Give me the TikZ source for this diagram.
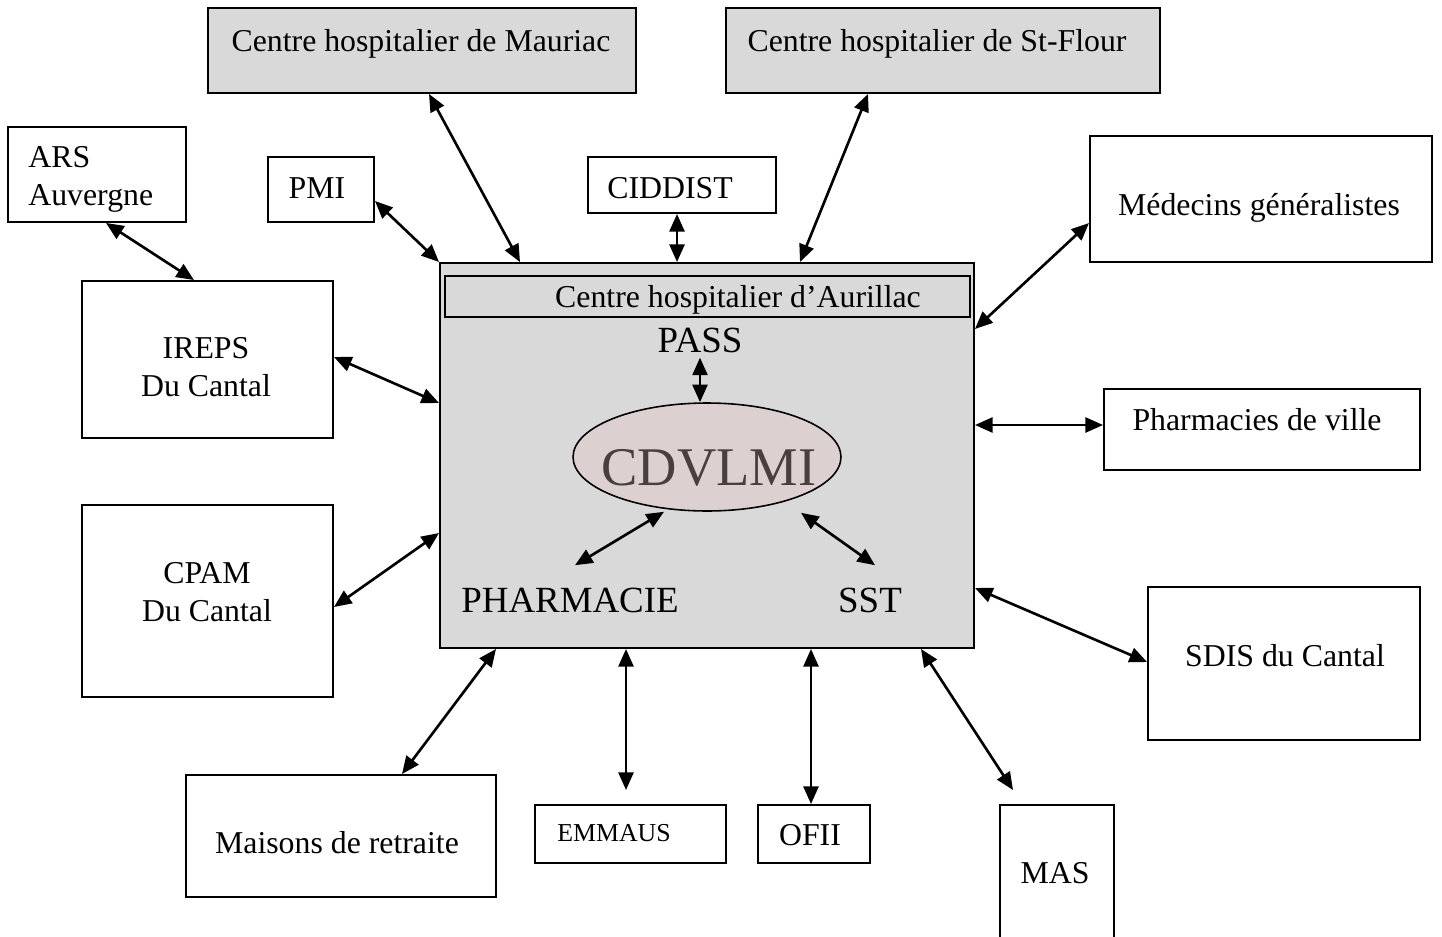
\documentclass[tikz,border=0pt]{standalone}
\usepackage{fontspec}
\setmainfont{Liberation Serif}
\usetikzlibrary{arrows.meta,shapes.geometric,fit,calc}
\definecolor{boxgray}{RGB}{217,217,217}
\definecolor{ellfill}{RGB}{221,208,208}
\definecolor{elltext}{RGB}{74,62,62}
\begin{document}
\begin{tikzpicture}[x=0.02cm,y=-0.02cm,
  box/.style={draw=black, line width=1.1pt, inner sep=0pt, fill=white},
  graybox/.style={box, fill=boxgray},
  txt/.style={inner sep=0pt, font=\fontsize{18.1}{21.5}\selectfont},
  bigtxt/.style={inner sep=0pt, font=\fontsize{21}{25}\selectfont},
  smalltxt/.style={inner sep=0pt, font=\fontsize{14.7}{17}\selectfont},
  link/.style={line width=1.5pt, {Triangle[length=10pt,width=8.5pt]}-{Triangle[length=10pt,width=8.5pt]}},
]
\useasboundingbox (0,0) rectangle (1442,936);

% boxes
\node[graybox, fit={(208,8)(636,93)}] (maur) {};
\node[graybox, fit={(726,8)(1160,93)}] (sfl) {};
\node[box, fit={(8,127)(186,222)}] (ars) {};
\node[box, fit={(268,157)(374,222)}] (pmi) {};
\node[box, fit={(588,157)(776,213)}] (cid) {};
\node[box, fit={(1090,136)(1432,262)}] (med) {};
\node[box, fit={(82,281)(333,438)}] (ireps) {};
\node[graybox, fit={(440,263)(974,648)}] (main) {};
\node[draw=black, line width=1.1pt, inner sep=0pt, fit={(445,276)(970,317)}] (title) {};
\node[ellipse, draw=black, line width=0.9pt, fill=ellfill, minimum width=5.36cm, minimum height=2.16cm, inner sep=0pt] (cdv) at (707,457) {};
\node[box, fit={(1104,389)(1420,470)}] (pdv) {};
\node[box, fit={(82,505)(333,697)}] (cpam) {};
\node[box, fit={(1148,587)(1420,740)}] (sdis) {};
\node[box, fit={(186,775)(496,897)}] (mdr) {};
\node[box, fit={(535,805)(726,863)}] (emm) {};
\node[box, fit={(758,805)(870,863)}] (ofii) {};
\node[box, fit={(1000,805)(1114,960)}] (mas) {};

% texts
\node[txt, anchor=base] (maurt) at (421,52) {Centre hospitalier de Mauriac};
\node[txt, anchor=base] (sflt) at (937,52) {Centre hospitalier de St-Flour};
\node[txt, anchor=north west, align=left] (arst) at (28,146) {ARS\\Auvergne};
\node[txt, anchor=base] (pmit) at (317,198) {PMI};
\node[txt, anchor=base] (cidt) at (670,198) {CIDDIST};
\node[txt, anchor=base] (medt) at (1259,215) {Médecins généralistes};
\node[txt, anchor=north, align=center] (irepst) at (206,337) {IREPS\\Du Cantal};
\node[txt, anchor=base] (titlet) at (738,307) {Centre hospitalier d’Aurillac};
\node[bigtxt, anchor=base] (pass) at (700,352) {PASS};
\node[inner sep=0pt, anchor=base, font=\fontsize{31}{35}\selectfont, text=elltext] (cdvt) at (709,485) {CDVLMI};
\node[bigtxt, anchor=base] (phar) at (570,612) {PHARMACIE};
\node[bigtxt, anchor=base] (sst) at (870,612) {SST};
\node[txt, anchor=base] (pdvt) at (1257,430) {Pharmacies de ville};
\node[txt, anchor=north, align=center] (cpamt) at (207,562) {CPAM\\Du Cantal};
\node[txt, anchor=base] (sdist) at (1285,666) {SDIS du Cantal};
\node[txt, anchor=base] (mdrt) at (337,853) {Maisons de retraite};
\node[smalltxt, anchor=base] (emmt) at (614,841) {EMMAUS};
\node[txt, anchor=base] (ofiit) at (810,845) {OFII};
\node[txt, anchor=base] (mast) at (1055,883) {MAS};

% free ends
\coordinate (emE) at (626,790);
\coordinate (masE) at (1013,790);

% connectors
\draw[link] (106,0 |- ars.south) -- (194,0 |- ireps.north);
\draw[link] (pmi.east |- 0,201) -- (main.north west);
\draw[link] (429,0 |- maur.south) -- (520,0 |- main.north);
\draw[link] (677,0 |- cid.south) -- (677,0 |- main.north);
\draw[link] (868,0 |- sfl.south) -- (800,0 |- main.north);
\draw[link] (med.west |- 0,223) -- (main.east |- 0,329);
\draw[link] (ireps.east |- 0,357) -- (main.west |- 0,403);
\draw[link] (main.east |- 0,425) -- (pdv.west |- 0,425);
\draw[link] (cpam.east |- 0,607) -- (main.west |- 0,533);
\draw[link] (main.east |- 0,588) -- (sdis.west |- 0,662);
\draw[link] (402,0 |- mdr.north) -- (496,0 |- main.south);
\draw[link] (626,0 |- main.south) -- (emE);
\draw[link] (811,0 |- main.south) -- (811,0 |- ofii.north);
\draw[link] (921,0 |- main.south) -- (masE);
\draw[link] ([yshift=-2.8pt]pass.south) -- (pass.south |- cdv.north);
\draw[link] ([shift={(-43,0)}]cdv.south) -- ([shift={(5,-22)}]phar.north);
\draw[link] ([shift={(94,1)}]cdv.south) -- ([shift={(5,-22)}]sst.north);
\end{tikzpicture}
\end{document}
